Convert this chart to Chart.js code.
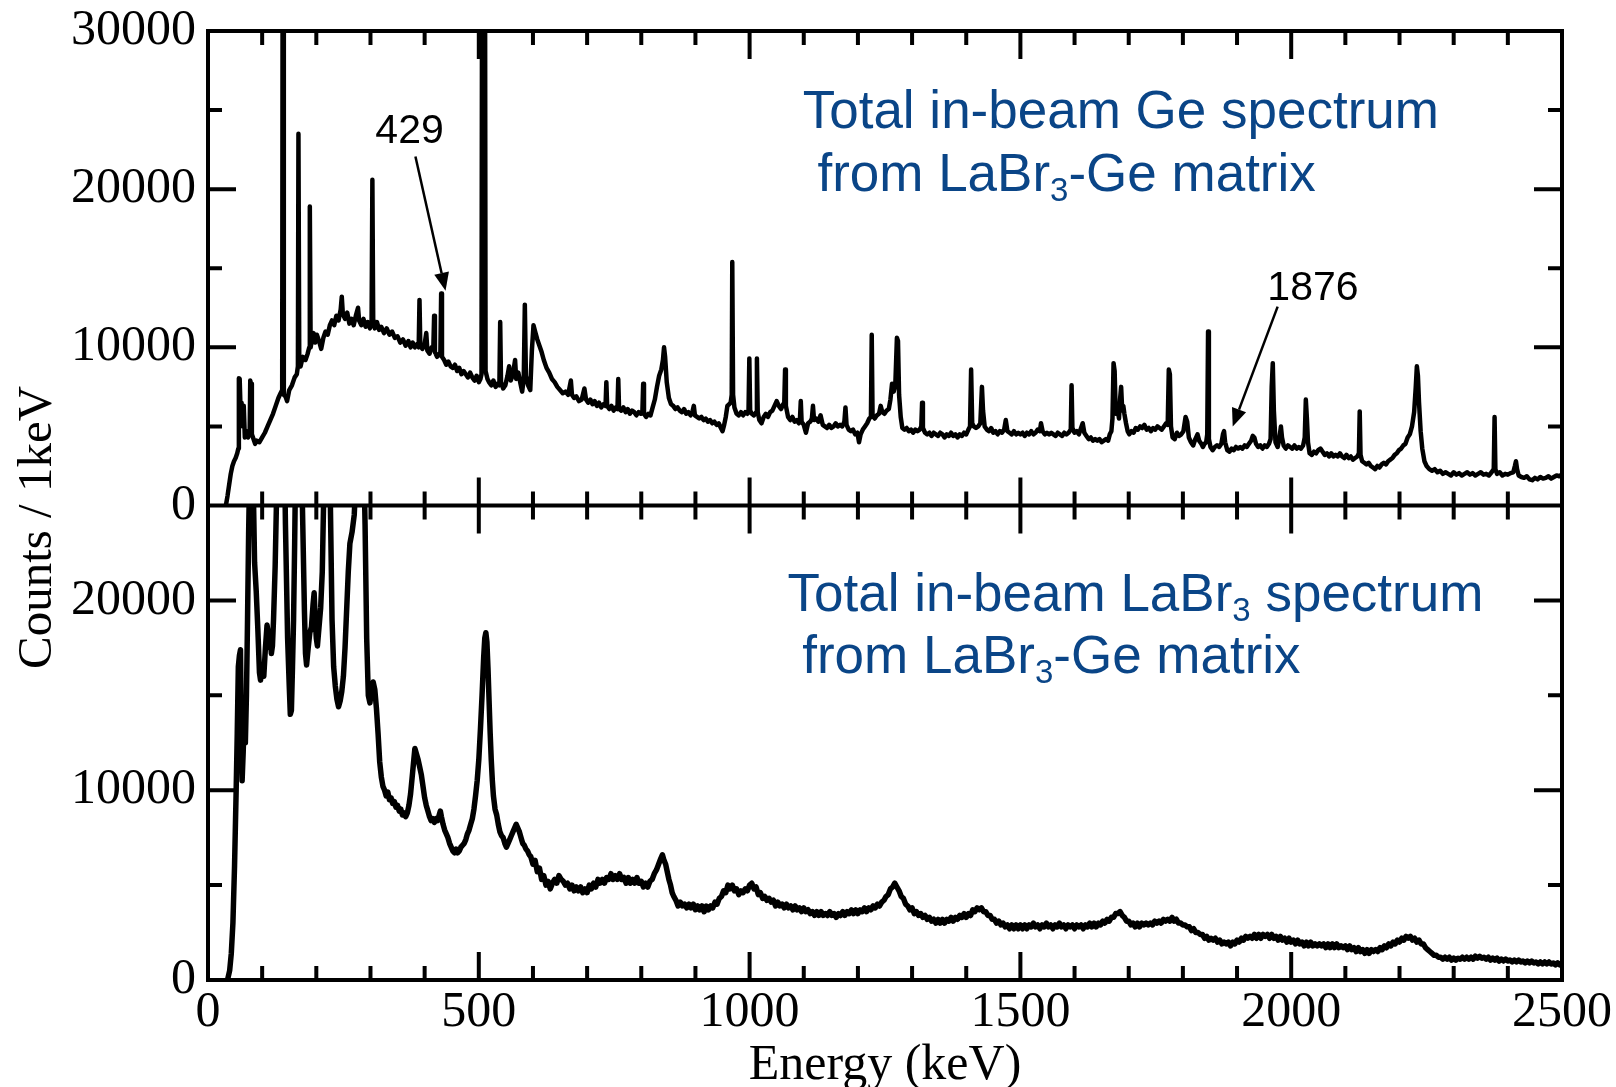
<!DOCTYPE html>
<html>
<head>
<meta charset="utf-8">
<script src="https://cdn.jsdelivr.net/npm/chart.js@4.4.1/dist/chart.umd.min.js"></script>
<style>
  html, body { margin: 0; padding: 0; background: #fff; }
  #spectra { display: block; }
</style>
</head>
<body>
<canvas id="spectra" width="1616" height="1087"></canvas>
<script>
// -----------------------------------------------------------------------------
// tick values
const energyLabels = [0, 500, 1000, 1500, 2000, 2500];
const energyMinor = [100, 200, 300, 400, 600, 700, 800, 900, 1100, 1200, 1300, 1400,
  1600, 1700, 1800, 1900, 2100, 2200, 2300, 2400];
const energyMajor = [500, 1000, 1500, 2000];
const geCountLabels = [0, 10000, 20000, 30000];
const geCountMajor = [10000, 20000];
const geCountMinor = [5000, 15000, 25000];
const labrCountLabels = [0, 10000, 20000];
const labrCountMajor = [10000, 20000];
const labrCountMinor = [5000, 15000];

// -----------------------------------------------------------------------------
// total in-beam Ge spectrum  [energy keV, counts / 1 keV]
const geSpectrum = [
  [33,0],[36,600],[39,1300],[42,2000],[45,2500],[48,2800],[51,3000],[54,3300],[56,3600],[57,8050],
  [58.5,8000],[60,6200],[62,6500],[64,5000],[66,6300],[68,4300],[71,4700],[74,4300],[77,4800],[78,7900],
  [79.5,7700],[81,4500],[84,4200],[87,3900],[90,4100],[95,4000],[100,4300],[105,4600],[110,5000],[115,5400],
  [120,5800],[125,6300],[130,6800],[134,7100],[137,7300],[138.5,60000],[140,7000],[143,6900],[146,6600],[150,7300],
  [155,7600],[160,8100],[164,8300],[166,8800],[167,23500],[168.5,9000],[171,8800],[175,9400],[180,9200],[184,9600],
  [187,10000],[188,18900],[189.5,10000],[192,10500],[195,10900],[198,10300],[201,10800],[205,10400],[209,9900],[213,10600],
  [217,11000],[221,10800],[225,11400],[229,11700],[233,11400],[237,12000],[241,11700],[245,12400],[247,13200],[249,12100],
  [253,11800],[257,12200],[261,11500],[265,11800],[269,11400],[273,12000],[277,12500],[279,11700],[283,11400],[287,11800],
  [291,11300],[295,11600],[299,11200],[302,11500],[303.5,20600],[305,11800],[308,11200],[312,11600],[316,11100],[320,11300],
  [325,10900],[330,11200],[335,10800],[340,11000],[345,10600],[350,10700],[355,10300],[360,10500],[365,10100],[370,10400],
  [374,10000],[378,10300],[382,10000],[386,10200],[389,10000],[390.5,13000],[392,10100],[396,9900],[400,10200],[403,10900],
  [405,9800],[409,9600],[413,10000],[416,9900],[417.5,12000],[419,9700],[423,9400],[427,9600],[429,9500],[430.5,13400],
  [432,9400],[436,9200],[440,8900],[444,9100],[448,8800],[452,8700],[456,8900],[460,8500],[464,8700],[468,8300],
  [472,8500],[476,8300],[480,8100],[484,8400],[488,8100],[492,7900],[496,8200],[500,7800],[503,8000],[505,8300],
  [507,60000],[510.5,60000],[512.5,8500],[516,8000],[519,7800],[523,7600],[527,7900],[531,7500],[535,7700],[538,7600],[539.5,11600],
  [541,7800],[545,7400],[549,7600],[553,8200],[556,8800],[559,7900],[563,8300],[567,9200],[569,8000],[573,8400],
  [577,7700],[580,7200],[583,8000],[585,12700],[587,8200],[591,7600],[595,7300],[598,9800],[601,11400],[604,11000],
  [608,10500],[612,10100],[616,9700],[620,9200],[625,8700],[630,8400],[635,8000],[640,7800],[645,7500],[650,7300],
  [655,7100],[660,7200],[665,7000],[670,7900],[672,7000],[676,6800],[680,6900],[685,6600],[690,6700],[695,7400],
  [698,6700],[702,6500],[706,6700],[710,6400],[714,6600],[718,6300],[722,6500],[726,6200],[730,6400],[734,6300],
  [735.5,7800],[737,6300],[741,6100],[745,6300],[749,6000],[753,6200],[756,6100],[757.5,8000],[759,6100],[763,6000],
  [767,6200],[771,5900],[775,6100],[779,5800],[783,6000],[787,5900],[791,5700],[795,5900],[799,5800],[802,5900],
  [803.5,7700],[805,5800],[809,5600],[813,5800],[817,5700],[821,6200],[825,6700],[829,7500],[833,8200],[837,8600],
  [840,9200],[842,10000],[844,9400],[847,7800],[851,6800],[855,6400],[859,6300],[863,6100],[867,6200],[871,6000],
  [875,5900],[879,6100],[883,5800],[887,5900],[891,5700],[895,6000],[897,6300],[899,5700],[903,5600],[907,5500],
  [911,5600],[915,5400],[919,5500],[923,5300],[927,5400],[931,5200],[935,5300],[939,5100],[943,5200],[947,4900],
  [950,4700],[953,5100],[956,5600],[959,6300],[962,6400],[965,6500],[967,7000],[968,15400],[969.5,7000],[972,6200],
  [976,5800],[980,5700],[984,5900],[988,5700],[992,5900],[996,5800],[998,6000],[999.5,9300],[1001,6000],[1004,5800],
  [1008,5700],[1012,5900],[1013.5,9300],[1015,5900],[1018,5400],[1022,5200],[1026,5600],[1030,5800],[1034,5600],[1038,5900],
  [1042,6000],[1046,6300],[1050,6600],[1054,6300],[1058,6100],[1062,6400],[1064,6500],[1065.5,8600],[1067,6300],[1071,5600],
  [1075,5400],[1079,5600],[1083,5300],[1087,5400],[1091,5200],[1093,5500],[1094.5,6600],[1096,5300],[1100,5100],[1104,4600],
  [1108,5200],[1112,5300],[1115,5500],[1117,6300],[1119,5400],[1123,5500],[1127,5300],[1131,5700],[1135,5100],[1139,5000],
  [1143,4900],[1147,5100],[1151,4900],[1155,5000],[1159,5200],[1163,5000],[1167,5100],[1171,5000],[1175,5300],[1177,6200],
  [1179,5100],[1183,4800],[1187,4700],[1191,4800],[1195,4500],[1199,4600],[1202,4000],[1205,4500],[1209,4800],[1213,5000],
  [1217,5200],[1221,5500],[1224,5600],[1225.5,10800],[1227,5700],[1231,5500],[1235,5700],[1239,5800],[1242,6300],[1245,5900],
  [1249,5800],[1253,6000],[1257,6100],[1260,6700],[1263,7700],[1266,7200],[1269,7600],[1272,10600],[1274,10400],[1276,7000],
  [1279,5600],[1282,4900],[1286,4800],[1290,4900],[1294,4700],[1298,4800],[1302,4600],[1306,4800],[1310,4700],[1314,4800],
  [1317,5000],[1318.5,6500],[1320,4900],[1324,4600],[1328,4500],[1332,4600],[1336,4400],[1340,4600],[1344,4500],[1348,4400],
  [1352,4600],[1356,4500],[1360,4300],[1364,4500],[1368,4400],[1372,4600],[1376,4400],[1380,4500],[1384,4300],[1388,4500],
  [1392,4400],[1396,4600],[1400,4500],[1404,4800],[1407,5000],[1409,8600],[1411,5200],[1414,5000],[1418,4900],[1422,5000],
  [1426,5200],[1429,7500],[1431,6000],[1434,5000],[1438,4800],[1442,4700],[1446,4900],[1450,4600],[1454,4700],[1458,4500],
  [1462,4700],[1466,4600],[1470,4800],[1473,5400],[1476,4700],[1480,4600],[1484,4500],[1488,4700],[1492,4500],[1496,4600],
  [1500,4500],[1504,4600],[1508,4400],[1512,4600],[1516,4500],[1520,4700],[1524,4500],[1528,4600],[1532,4800],[1536,4700],
  [1538,5200],[1541,4700],[1545,4500],[1549,4600],[1553,4500],[1557,4600],[1561,4500],[1565,4400],[1569,4600],[1573,4500],
  [1577,4400],[1581,4600],[1585,4500],[1589,4600],[1593,4800],[1594.5,7600],[1596,4900],[1600,4600],[1604,4700],[1608,4500],
  [1612,4900],[1615,5200],[1618,4600],[1622,4400],[1626,4200],[1630,4300],[1634,4100],[1638,4200],[1642,4100],[1646,4200],
  [1650,4000],[1654,4100],[1658,4200],[1662,4100],[1665,4500],[1668,4700],[1670,5500],[1672,9000],[1674,8500],[1676,5800],
  [1679,6200],[1682,5500],[1684,6700],[1686,7500],[1688,6000],[1690,6300],[1692,5800],[1695,5200],[1698,4700],[1701,4500],
  [1705,4700],[1709,4600],[1713,4900],[1717,4800],[1721,5000],[1725,4900],[1729,5100],[1733,4800],[1737,4900],[1741,4700],
  [1745,4900],[1749,4800],[1753,5000],[1757,4900],[1761,4800],[1765,5000],[1769,5200],[1772,5100],[1774,8600],[1776,8300],
  [1778,5000],[1781,4300],[1785,4200],[1789,4600],[1793,4400],[1797,4500],[1801,4700],[1805,5600],[1808,5300],[1811,4300],
  [1815,4000],[1819,3800],[1823,4200],[1827,4500],[1830,4100],[1834,3900],[1837,3700],[1840,3900],[1843,4000],[1845,4500],
  [1846.5,11000],[1848,4200],[1851,3700],[1855,3500],[1859,3700],[1863,3800],[1867,3700],[1871,3900],[1874,4500],[1876,4700],
  [1878,4000],[1882,3500],[1886,3400],[1890,3600],[1894,3500],[1898,3700],[1902,3600],[1906,3700],[1910,3600],[1914,3800],
  [1918,3700],[1922,3900],[1926,4100],[1929,4400],[1932,4300],[1935,3900],[1939,3700],[1943,3800],[1947,3600],[1951,3800],
  [1955,3700],[1959,3900],[1962,4200],[1964,7500],[1966,9000],[1968,6000],[1971,4000],[1975,3700],[1978,4200],[1981,5000],
  [1983,4300],[1986,3800],[1990,3600],[1994,3800],[1998,3700],[2002,3600],[2006,3800],[2010,3600],[2014,3700],[2018,3600],
  [2022,3800],[2025,4300],[2027,6700],[2029,5500],[2031,4000],[2034,3300],[2038,3200],[2042,3400],[2046,3300],[2050,3500],
  [2054,3600],[2058,3400],[2062,3200],[2066,3300],[2070,3100],[2074,3300],[2078,3100],[2082,3200],[2086,3100],[2090,3300],
  [2094,3100],[2098,3000],[2102,3200],[2106,3000],[2110,3100],[2114,2900],[2118,3000],[2122,3100],[2125,3300],[2126.5,5950],
  [2128,3200],[2131,2800],[2135,2700],[2139,2600],[2143,2700],[2147,2500],[2151,2400],[2155,2300],[2159,2500],[2163,2400],
  [2167,2600],[2171,2700],[2175,2600],[2179,2800],[2183,2900],[2187,3000],[2191,3200],[2195,3300],[2199,3500],[2203,3600],
  [2207,3800],[2211,3900],[2215,4300],[2219,4500],[2223,5000],[2227,5900],[2230,7500],[2232,8800],[2234,8200],[2236,6500],
  [2239,4700],[2242,3600],[2246,2800],[2250,2500],[2255,2300],[2260,2200],[2265,2300],[2270,2100],[2275,2200],[2280,2000],
  [2285,2100],[2290,2000],[2295,1900],[2300,2100],[2305,1950],[2310,2050],[2315,1900],[2320,2000],[2325,2100],[2330,1950],
  [2335,2050],[2340,1900],[2345,2000],[2350,2100],[2355,1950],[2360,2000],[2365,1900],[2370,2100],[2374,2300],[2375.5,5600],
  [2377,2300],[2380,2000],[2385,2100],[2390,1900],[2395,2000],[2400,1950],[2405,2050],[2410,2100],[2413,2500],[2415,2800],
  [2417,2300],[2420,1900],[2425,1800],[2430,1750],[2435,1850],[2440,1650],[2445,1600],[2450,1750],[2455,1650],[2460,1800],
  [2465,1700],[2470,1750],[2475,1850],[2480,1700],[2485,1800],[2490,1900],[2495,1850],[2500,1950]
];

// total in-beam LaBr3 spectrum  [energy keV, counts / 1 keV]
const labrSpectrum = [
  [36,0],[40,500],[43,1400],[46,3000],[49,6000],[52,10000],[54,13000],[56,16500],[58,17100],[60,17400],
  [61.5,13000],[63,10500],[65,12000],[67,14000],[69,12500],[71,15000],[73,19000],[75,23500],[77,27000],[80,30000],
  [83,27000],[86,22000],[89,20500],[92,18500],[95,16200],[97,15800],[100,16500],[103,16000],[106,17500],[109,18700],
  [111,18300],[113,17500],[115,18000],[117,17200],[119,17600],[121,19000],[124,21800],[127,26000],[131,35000],[135,38000],
  [139,32000],[143,24000],[147,18000],[150,15500],[152,14000],[154,14200],[156,16500],[158,19000],[160,23000],[163,30000],
  [167,35000],[171,30000],[175,24000],[178,19500],[180,17200],[182,16600],[185,17500],[188,18300],[191,18600],[194,19800],
  [196,20400],[198,19000],[200,18000],[202,17600],[205,18600],[208,19600],[211,21500],[214,26000],[218,35000],[222,33000],
  [226,25000],[229,19000],[232,16500],[235,15500],[238,14800],[241,14400],[244,14700],[247,15200],[250,16000],[253,17500],
  [256,19500],[259,21500],[262,23000],[266,23600],[270,24500],[274,27000],[280,32000],[286,30000],[290,24000],[293,18000],
  [296,15000],[299,14600],[302,15300],[305,15700],[308,15300],[311,14300],[314,13000],[317,11500],[320,10700],[323,10200],
  [326,10000],[329,9700],[332,9900],[335,9500],[338,9600],[341,9300],[344,9400],[347,9100],[350,9200],[353,8900],
  [356,9000],[359,8700],[362,8800],[365,8600],[368,8800],[371,9200],[374,9800],[377,10700],[380,11600],[382,12200],
  [384,12000],[386,11800],[388,11600],[391,11200],[394,10800],[397,10200],[400,9600],[403,9200],[406,8900],[409,8600],
  [412,8400],[415,8500],[418,8300],[421,8500],[424,8400],[427,8700],[429,8900],[431,8600],[434,8200],[437,7900],
  [440,7700],[443,7500],[446,7200],[449,7000],[452,6800],[455,6700],[458,6900],[461,6700],[464,6800],[467,7000],
  [470,7100],[473,7200],[476,7400],[479,7700],[482,7900],[485,8200],[488,8500],[491,9000],[494,9700],[497,10500],
  [500,11600],[503,13200],[506,15000],[509,17000],[511,18000],[513,18300],[515,17800],[517,16400],[519,14700],[521,13000],
  [523,11600],[525,10500],[527,9700],[530,9000],[533,8700],[536,8200],[539,7800],[542,7600],[545,7500],[548,7200],
  [551,7000],[554,7200],[557,7400],[560,7600],[563,7800],[566,8000],[569,8200],[572,8000],[575,7800],[578,7500],
  [581,7200],[584,7100],[587,6900],[590,6800],[593,6600],[596,6500],[600,6100],[604,6300],[608,5700],[612,5900],
  [616,5300],[620,5500],[624,5000],[628,5200],[632,4800],[636,5100],[640,5300],[644,5100],[648,5500],[652,5300],
  [656,5200],[660,5000],[664,5100],[668,4800],[672,5000],[676,4700],[680,4900],[684,4700],[688,4900],[692,4600],
  [696,4800],[700,4600],[704,5000],[708,4800],[712,5100],[716,4900],[720,5300],[724,5100],[728,5300],[732,5100],
  [736,5400],[740,5300],[744,5600],[748,5300],[752,5500],[756,5300],[760,5600],[764,5300],[768,5400],[772,5100],
  [776,5400],[780,5100],[784,5300],[788,5100],[792,5400],[796,5100],[800,5200],[804,4900],[808,5100],[812,4900],
  [816,5200],[820,5300],[824,5600],[828,5800],[832,6100],[836,6400],[839,6600],[842,6300],[845,6100],[848,5700],
  [851,5300],[854,5000],[857,4600],[860,4400],[864,4200],[868,3900],[872,4100],[876,3900],[880,4000],[884,3800],
  [888,4000],[892,3800],[896,4000],[900,3700],[904,3900],[908,3700],[912,3900],[916,3600],[920,3900],[924,3700],
  [928,3900],[932,3800],[936,4100],[940,4000],[944,4300],[948,4400],[952,4700],[956,4600],[960,5000],[964,4800],
  [968,5000],[972,4700],[976,4800],[980,4500],[984,4700],[988,4600],[992,4800],[996,4700],[1000,5000],[1004,5100],
  [1008,4800],[1012,4900],[1016,4500],[1020,4600],[1024,4300],[1028,4400],[1032,4200],[1036,4300],[1040,4100],[1044,4200],
  [1048,3900],[1052,4100],[1056,3900],[1060,4000],[1064,3800],[1068,4000],[1072,3800],[1076,3900],[1080,3700],[1084,3900],
  [1088,3700],[1092,3800],[1096,3600],[1100,3800],[1104,3600],[1108,3700],[1112,3500],[1116,3600],[1120,3400],[1124,3600],
  [1128,3400],[1132,3600],[1136,3400],[1140,3500],[1144,3400],[1148,3600],[1152,3400],[1156,3500],[1160,3300],[1164,3500],
  [1168,3400],[1172,3600],[1176,3400],[1180,3600],[1184,3500],[1188,3700],[1192,3500],[1196,3700],[1200,3500],[1204,3700],
  [1208,3600],[1212,3800],[1216,3600],[1220,3800],[1224,3700],[1228,3900],[1232,3800],[1236,4000],[1240,3900],[1244,4100],
  [1248,4200],[1252,4400],[1256,4500],[1260,4800],[1264,4900],[1268,5100],[1272,4900],[1276,4700],[1280,4400],[1284,4300],
  [1288,4000],[1292,3900],[1296,3700],[1300,3800],[1304,3500],[1308,3600],[1312,3400],[1316,3500],[1320,3300],[1324,3400],
  [1328,3200],[1332,3300],[1336,3100],[1340,3200],[1344,3000],[1348,3200],[1352,3000],[1356,3200],[1360,3000],[1364,3200],
  [1368,3100],[1372,3300],[1376,3100],[1380,3300],[1384,3200],[1388,3400],[1392,3300],[1396,3500],[1400,3300],[1404,3500],
  [1408,3400],[1412,3700],[1416,3600],[1420,3800],[1424,3700],[1428,3800],[1432,3600],[1436,3600],[1440,3400],[1444,3400],
  [1448,3200],[1452,3200],[1456,3000],[1460,3100],[1464,2900],[1468,3000],[1472,2800],[1476,2900],[1480,2700],[1484,2900],
  [1488,2700],[1492,2900],[1496,2700],[1500,2900],[1504,2700],[1508,2900],[1512,2700],[1516,2900],[1520,2800],[1524,3000],
  [1528,2800],[1532,2900],[1536,2700],[1540,2900],[1544,2800],[1548,3000],[1552,2800],[1556,2900],[1560,2700],[1564,2900],
  [1568,2800],[1572,3000],[1576,2800],[1580,2900],[1584,2700],[1588,2900],[1592,2800],[1596,2900],[1600,2700],[1604,2900],
  [1608,2800],[1612,2900],[1616,2700],[1620,2900],[1624,2800],[1628,3000],[1632,2800],[1636,3000],[1640,2800],[1644,3000],
  [1648,2900],[1652,3100],[1656,3000],[1660,3200],[1664,3100],[1668,3300],[1672,3300],[1676,3500],[1680,3500],[1684,3600],
  [1688,3400],[1692,3300],[1696,3100],[1700,3100],[1704,2900],[1708,3000],[1712,2800],[1716,3000],[1720,2800],[1724,3000],
  [1728,2900],[1732,3000],[1736,2900],[1740,3000],[1744,2900],[1748,3100],[1752,3000],[1756,3100],[1760,3000],[1764,3200],
  [1768,3100],[1772,3200],[1776,3100],[1780,3300],[1784,3100],[1788,3200],[1792,3000],[1796,3000],[1800,2900],[1804,2900],
  [1808,2800],[1812,2800],[1816,2600],[1820,2700],[1824,2500],[1828,2500],[1832,2400],[1836,2400],[1840,2200],[1844,2300],
  [1848,2100],[1852,2200],[1856,2100],[1860,2200],[1864,2000],[1868,2100],[1872,1900],[1876,2000],[1880,1900],[1884,2000],
  [1888,1800],[1892,2000],[1896,1900],[1900,2100],[1904,2000],[1908,2200],[1912,2100],[1916,2300],[1920,2200],[1924,2300],
  [1928,2200],[1932,2400],[1936,2200],[1940,2400],[1944,2200],[1948,2400],[1952,2300],[1956,2400],[1960,2200],[1964,2400],
  [1968,2200],[1972,2300],[1976,2100],[1980,2300],[1984,2100],[1988,2200],[1992,2000],[1996,2200],[2000,2000],[2004,2100],
  [2008,1900],[2012,2100],[2016,1900],[2020,2000],[2024,1800],[2028,2000],[2032,1800],[2036,2000],[2040,1800],[2044,1900],
  [2048,1800],[2052,1900],[2056,1800],[2060,1900],[2064,1700],[2068,1900],[2072,1700],[2076,1900],[2080,1700],[2084,1900],
  [2088,1700],[2092,1800],[2096,1700],[2100,1800],[2104,1600],[2108,1800],[2112,1600],[2116,1700],[2120,1500],[2124,1700],
  [2128,1500],[2132,1600],[2136,1400],[2140,1600],[2144,1400],[2148,1600],[2152,1500],[2156,1600],[2160,1500],[2164,1700],
  [2168,1600],[2172,1800],[2176,1700],[2180,1900],[2184,1800],[2188,2000],[2192,1900],[2196,2100],[2200,2000],[2204,2200],
  [2208,2100],[2212,2300],[2216,2200],[2220,2300],[2224,2100],[2228,2200],[2232,2000],[2236,2100],[2240,1900],[2244,1900],
  [2248,1700],[2252,1600],[2256,1500],[2260,1400],[2264,1300],[2268,1300],[2272,1200],[2276,1200],[2280,1100],[2284,1200],
  [2288,1100],[2292,1200],[2296,1050],[2300,1150],[2304,1050],[2308,1150],[2312,1100],[2316,1200],[2320,1100],[2324,1200],
  [2328,1100],[2332,1200],[2336,1100],[2340,1250],[2344,1150],[2348,1250],[2352,1150],[2356,1200],[2360,1100],[2364,1200],
  [2368,1050],[2372,1150],[2376,1050],[2380,1150],[2384,1000],[2388,1100],[2392,1000],[2396,1100],[2400,1000],[2404,1050],
  [2408,950],[2412,1050],[2416,950],[2420,1050],[2424,950],[2428,1000],[2432,900],[2436,1000],[2440,900],[2444,1000],
  [2448,900],[2452,950],[2456,850],[2460,950],[2464,850],[2468,950],[2472,850],[2476,950],[2480,850],[2484,900],
  [2488,800],[2492,900],[2496,800],[2500,880]
];

// -----------------------------------------------------------------------------
// annotations (positions in data units of each panel)
const peakNotes = [
  { text: "429",  label: [309, 22950],  tail: [383, 22070],  tip: [438.6, 13575] },
  { text: "1876", label: [1956, 12990], tail: [1975, 12570], tip: [1892, 5000] }
];
const panelTitles = [
  { axis: "yGe", left: 1098, lines: [["Total in-beam Ge spectrum", 23870], [" from LaBr|3|-Ge matrix", 19900]] },
  { axis: "yLa", left: 1070, lines: [["Total in-beam LaBr|3| spectrum", 19460], [" from LaBr|3|-Ge matrix", 16190]] }
];

const toPoints = (arr) => arr.map(([x, y]) => ({ x, y }));
const serif = "'Liberation Serif', 'Times New Roman', serif";
const sans = "'Liberation Sans', Arial, sans-serif";
const blue = "#0a4587";

// -----------------------------------------------------------------------------
// keep each spectrum inside its own panel
const panelClip = {
  id: "panelClip",
  beforeDatasetDraw(chart, args) {
    const ys = chart.scales[args.meta.yAxisID];
    const a = chart.chartArea;
    chart.ctx.save();
    chart.ctx.beginPath();
    chart.ctx.rect(a.left, ys.top, a.right - a.left, ys.bottom - ys.top);
    chart.ctx.clip();
  },
  afterDatasetDraw(chart) {
    chart.ctx.restore();
  }
};

// frame + inward ticks
const frameTicks = {
  id: "frameTicks",
  afterDatasetsDraw(chart) {
    const { ctx, chartArea: a, scales } = chart;
    const x = scales.x, yGe = scales.yGe, yLa = scales.yLa;
    const mid = yGe.bottom;
    const big = 28, small = 14;
    ctx.save();
    ctx.strokeStyle = "#000";
    ctx.lineWidth = 4;
    ctx.lineCap = "butt";
    ctx.strokeRect(a.left, a.top, a.right - a.left, a.bottom - a.top);
    ctx.beginPath();
    ctx.moveTo(a.left, mid);
    ctx.lineTo(a.right, mid);
    ctx.stroke();

    ctx.beginPath();
    const edges = [[a.top, 1], [mid, -1], [mid, 1], [a.bottom, -1]];
    edges.forEach(([y0, dir]) => {
      energyMajor.forEach((v) => {
        const px = x.getPixelForValue(v);
        ctx.moveTo(px, y0); ctx.lineTo(px, y0 + dir * big);
      });
      energyMinor.forEach((v) => {
        const px = x.getPixelForValue(v);
        ctx.moveTo(px, y0); ctx.lineTo(px, y0 + dir * small);
      });
    });
    [[yGe, geCountMajor, geCountMinor], [yLa, labrCountMajor, labrCountMinor]].forEach(([s, major, minor]) => {
      major.forEach((v) => {
        const py = s.getPixelForValue(v);
        ctx.moveTo(a.left, py); ctx.lineTo(a.left + big, py);
        ctx.moveTo(a.right, py); ctx.lineTo(a.right - big, py);
      });
      minor.forEach((v) => {
        const py = s.getPixelForValue(v);
        ctx.moveTo(a.left, py); ctx.lineTo(a.left + small, py);
        ctx.moveTo(a.right, py); ctx.lineTo(a.right - small, py);
      });
    });
    ctx.stroke();
    ctx.restore();
  }
};

// labels, arrows, axis title
function drawRich(ctx, text, x, y, size) {
  const parts = text.split("|");
  parts.forEach((p, i) => {
    const sub = i % 2 === 1;
    ctx.font = (sub ? Math.round(size * 0.62) : size) + "px " + sans;
    ctx.fillText(p, x, sub ? y + size * 0.2 : y);
    x += ctx.measureText(p).width;
  });
}

function drawArrow(ctx, x1, y1, x2, y2) {
  const ang = Math.atan2(y2 - y1, x2 - x1);
  const head = 18, half = 7.5;
  const bx = x2 - head * Math.cos(ang), by = y2 - head * Math.sin(ang);
  ctx.beginPath();
  ctx.moveTo(x1, y1);
  ctx.lineTo(bx, by);
  ctx.stroke();
  ctx.beginPath();
  ctx.moveTo(x2, y2);
  ctx.lineTo(bx + half * Math.sin(ang), by - half * Math.cos(ang));
  ctx.lineTo(bx - half * Math.sin(ang), by + half * Math.cos(ang));
  ctx.closePath();
  ctx.fill();
}

const notes = {
  id: "notes",
  afterDraw(chart) {
    const { ctx, chartArea: a, scales } = chart;
    const x = scales.x;
    ctx.save();
    ctx.textBaseline = "alphabetic";
    ctx.textAlign = "left";

    ctx.fillStyle = blue;
    panelTitles.forEach((t) => {
      const ys = scales[t.axis];
      t.lines.forEach(([txt, c]) => {
        drawRich(ctx, txt, x.getPixelForValue(t.left), ys.getPixelForValue(c), 53);
      });
    });

    ctx.fillStyle = "#000";
    ctx.strokeStyle = "#000";
    ctx.lineWidth = 2.5;
    peakNotes.forEach((n) => {
      const ys = scales.yGe;
      ctx.font = "41px " + sans;
      ctx.fillText(n.text, x.getPixelForValue(n.label[0]), ys.getPixelForValue(n.label[1]));
      drawArrow(ctx,
        x.getPixelForValue(n.tail[0]), ys.getPixelForValue(n.tail[1]),
        x.getPixelForValue(n.tip[0]), ys.getPixelForValue(n.tip[1]));
    });

    ctx.translate(a.left - 170, (a.top + a.bottom) / 2 + 22);
    ctx.rotate(-Math.PI / 2);
    ctx.textAlign = "center";
    ctx.textBaseline = "middle";
    ctx.font = "49px " + serif;
    ctx.fillText("Counts / 1keV", 0, 0);
    ctx.restore();
  }
};

// -----------------------------------------------------------------------------
const tickFont = { family: serif, size: 50 };
const fitY = (s) => { s.width = 208; s.paddingTop = 0; s.paddingBottom = 0; };

new Chart(document.getElementById("spectra"), {
  type: "line",
  data: {
    datasets: [
      {
        label: "Ge",
        data: toPoints(geSpectrum),
        yAxisID: "yGe",
        borderColor: "#000",
        borderWidth: 4.5,
        borderJoinStyle: "round",
        pointRadius: 0,
        tension: 0
      },
      {
        label: "LaBr3",
        data: toPoints(labrSpectrum),
        yAxisID: "yLa",
        borderColor: "#000",
        borderWidth: 5.5,
        borderJoinStyle: "round",
        pointRadius: 0,
        tension: 0
      }
    ]
  },
  options: {
    responsive: false,
    animation: false,
    devicePixelRatio: 1,
    parsing: false,
    layout: { padding: { left: 0, top: 31, right: 54, bottom: 0 } },
    plugins: { legend: { display: false }, tooltip: { enabled: false } },
    scales: {
      x: {
        type: "linear",
        min: 0,
        max: 2500,
        afterFit: (s) => { s.height = 107; },
        afterBuildTicks: (s) => { s.ticks = energyLabels.map((v) => ({ value: v })); },
        grid: { display: false, drawTicks: false },
        border: { display: false },
        ticks: { font: tickFont, color: "#000", padding: 3, maxRotation: 0, callback: (v) => String(v) },
        title: { display: true, text: "Energy (keV)", font: { family: serif, size: 50, lineHeight: 0.85 }, color: "#000", padding: { top: 0, bottom: 0 } }
      },
      yGe: {
        type: "linear",
        position: "left",
        stack: "panels",
        stackWeight: 1,
        weight: 2,
        min: 0,
        max: 30000,
        afterFit: fitY,
        afterBuildTicks: (s) => { s.ticks = geCountLabels.map((v) => ({ value: v })); },
        grid: { display: false, drawTicks: false },
        border: { display: false },
        ticks: { font: tickFont, color: "#000", padding: 12, callback: (v) => String(v) }
      },
      yLa: {
        type: "linear",
        position: "left",
        stack: "panels",
        stackWeight: 1,
        weight: 1,
        min: 0,
        max: 25000,
        afterFit: fitY,
        afterBuildTicks: (s) => { s.ticks = labrCountLabels.map((v) => ({ value: v })); },
        grid: { display: false, drawTicks: false },
        border: { display: false },
        ticks: { font: tickFont, color: "#000", padding: 12, callback: (v) => String(v) }
      }
    }
  },
  plugins: [panelClip, frameTicks, notes]
});
</script>
</body>
</html>
